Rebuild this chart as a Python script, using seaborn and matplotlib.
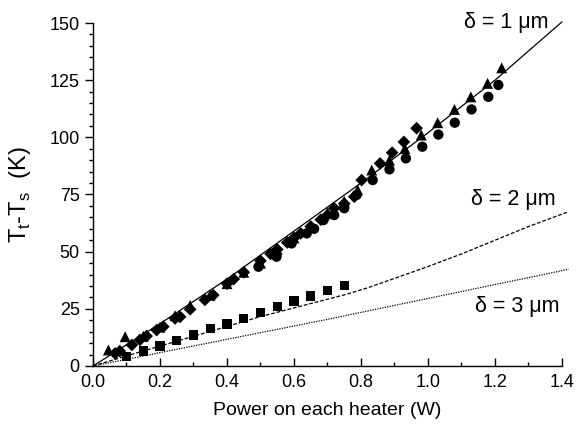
import matplotlib
matplotlib.use('Agg')
import matplotlib.pyplot as plt
from matplotlib.ticker import MultipleLocator
import seaborn as sns

# measured points (power in W, temperature rise in K)
diamond_p = [0.066, 0.08, 0.116, 0.14, 0.16, 0.19, 0.21, 0.245, 0.26, 0.29, 0.334, 0.359,
             0.40, 0.42, 0.45, 0.50, 0.53, 0.55, 0.58, 0.60, 0.62, 0.65, 0.68, 0.70, 0.72,
             0.75, 0.78, 0.802, 0.857, 0.893, 0.928, 0.966]
diamond_t = [5.5, 6.5, 9.2, 11.4, 13.1, 15.7, 17.2, 20.8, 21.5, 24.8, 28.9, 31,
             36, 38, 41, 46, 49, 51, 54, 56, 58, 61, 64, 66, 69,
             71, 74, 81.3, 88.6, 93.3, 98, 104]

triangle_p = [0.046, 0.096, 0.15, 0.20, 0.245, 0.29, 0.35, 0.40, 0.45, 0.50, 0.55, 0.60,
              0.65, 0.70, 0.75, 0.79, 0.832, 0.885, 0.931, 0.98, 1.029, 1.079, 1.128, 1.178, 1.22]
triangle_t = [7, 12.8, 13, 17, 22, 26.5, 31, 36, 41, 45, 51, 56,
              61, 67, 72, 77, 85.7, 90, 95.1, 101, 106.4, 112.2, 117.7, 123.6, 130.4]

circle_p = [0.494, 0.548, 0.593, 0.638, 0.66, 0.688, 0.72, 0.75, 0.787, 0.835, 0.885, 0.934,
            0.983, 1.031, 1.08, 1.13, 1.18, 1.21]
circle_t = [43.4, 47.8, 53.6, 58, 60, 63.8, 66, 69, 74.8, 81.3, 86, 90.8,
            95.9, 101.2, 106.4, 112.2, 117.7, 122.9]

square_p = [0.10, 0.15, 0.20, 0.25, 0.30, 0.35, 0.40, 0.45, 0.50, 0.55, 0.60, 0.65, 0.70, 0.75]
square_t = [4.3, 6.5, 8.8, 11.0, 13.6, 16.3, 18.4, 20.8, 23.3, 25.9, 28.4, 30.6, 32.9, 35.3]

# model curves
d1_p = [0, 0.2, 0.4, 0.6, 0.8, 1.0, 1.2, 1.4]
d1_t = [0, 18.5, 38, 59, 80, 102, 125, 150.5]
d2_p = [0, 0.1, 0.3, 0.5, 0.7, 0.76, 0.82, 0.9, 1.0, 1.1, 1.2, 1.3, 1.42]
d2_t = [0, 4.4, 13.0, 21.6, 29.2, 31.5, 34.2, 38.3, 43.5, 49.0, 55.0, 61.0, 67.5]
d3_p = [0, 0.7, 1.42]
d3_t = [0, 20.4, 42.3]

sns.set_theme(style='ticks')
plt.rcParams['font.family'] = ['Liberation Sans', 'DejaVu Sans']
plt.rcParams['mathtext.fontset'] = 'custom'
plt.rcParams['mathtext.rm'] = 'Liberation Sans'
for k in ['text.color', 'axes.labelcolor', 'xtick.color', 'ytick.color']:
    plt.rcParams[k] = 'black'

fig = plt.figure(figsize=(5.86, 4.34), dpi=100)
ax = fig.add_axes([0.1587, 0.1567, 0.8003, 0.7903])

sns.lineplot(x=d1_p, y=d1_t, ax=ax, color='black', lw=0.9, sort=False, estimator=None, clip_on=False)
sns.lineplot(x=d2_p, y=d2_t, ax=ax, color='black', lw=0.9, sort=False, estimator=None,
             clip_on=False, linestyle=(0, (3, 1.5)))
sns.lineplot(x=d3_p, y=d3_t, ax=ax, color='black', lw=0.9, sort=False, estimator=None,
             clip_on=False, linestyle=(0, (1, 1)))

pts = dict(color='black', edgecolor='none', ax=ax, legend=False)
sns.scatterplot(x=diamond_p, y=diamond_t, marker='D', s=42, **pts)
sns.scatterplot(x=triangle_p, y=triangle_t, marker='^', s=62, **pts)
sns.scatterplot(x=circle_p, y=circle_t, marker='o', s=55, **pts)
sns.scatterplot(x=square_p, y=square_t, marker='s', s=45, **pts)

ax.set_xlim(0, 1.4)
ax.set_ylim(0, 150)
ax.xaxis.set_major_locator(MultipleLocator(0.2))
ax.xaxis.set_minor_locator(MultipleLocator(0.1))
ax.yaxis.set_major_locator(MultipleLocator(25))
ax.yaxis.set_minor_locator(MultipleLocator(5))
ax.xaxis.set_major_formatter(plt.FormatStrFormatter('%.1f'))
ax.tick_params(axis='x', which='major', direction='in', length=6, width=1, labelsize=13, pad=6)
ax.tick_params(axis='x', which='minor', direction='in', length=3, width=1)
ax.tick_params(axis='y', which='major', direction='out', length=6, width=1, labelsize=13)
ax.tick_params(axis='y', which='minor', direction='out', length=3, width=1)
for s in ['left', 'bottom']:
    ax.spines[s].set_linewidth(1)
    ax.spines[s].set_color('black')
sns.despine(ax=ax)

ax.set_xlabel('Power on each heater (W)', fontsize=14, labelpad=8)
ax.set_ylabel(r'T$_\mathrm{t}$-T$_\mathrm{s}$  (K)', fontsize=17, labelpad=12)

lbl = dict(fontsize=15.5, ha='right', va='center')
ax.text(1.36, 150.4, 'δ = 1 μm', **lbl)
ax.text(1.38, 72.6, 'δ = 2 μm', **lbl)
ax.text(1.394, 25.8, 'δ = 3 μm', **lbl)

fig.savefig('out.png', dpi=100)
